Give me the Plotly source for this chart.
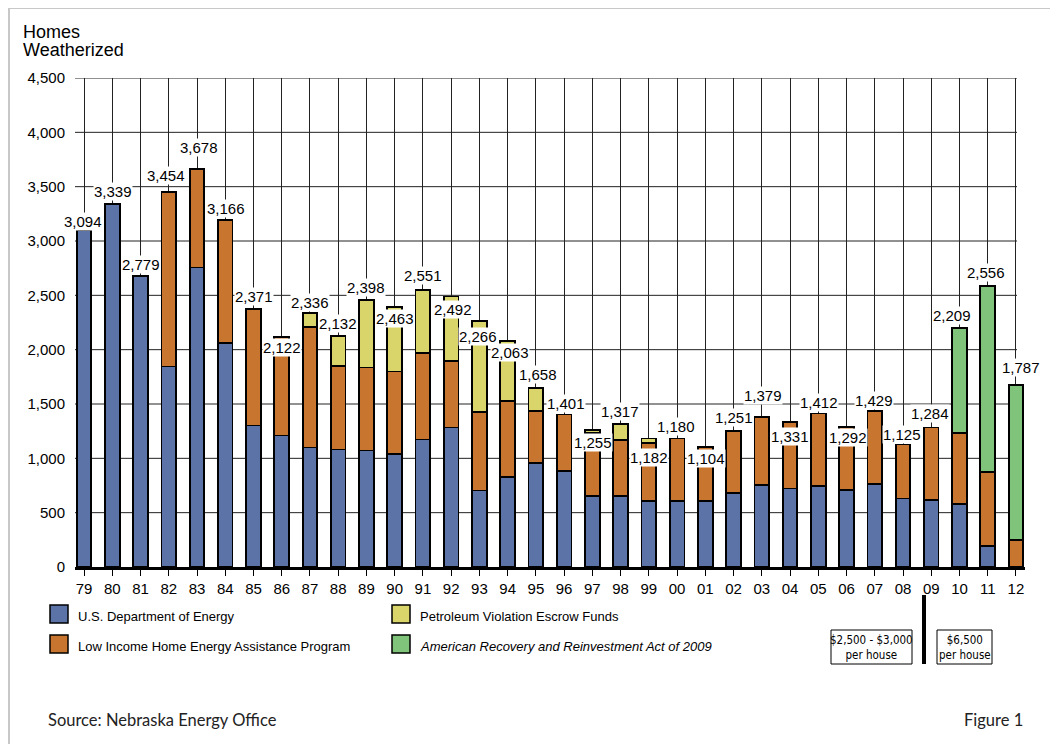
import plotly.graph_objects as go

# ---------------- data ----------------
years = ["79", "80", "81", "82", "83", "84", "85", "86", "87", "88", "89", "90",
         "91", "92", "93", "94", "95", "96", "97", "98", "99", "00", "01", "02",
         "03", "04", "05", "06", "07", "08", "09", "10", "11", "12"]

doe = [3100, 3337, 2680, 1846, 2757, 2058, 1302, 1210, 1100, 1081, 1072, 1038,
       1173, 1284, 704, 829, 958, 884, 651, 651, 608, 608, 608, 682,
       755, 722, 746, 706, 762, 630, 614, 577, 191, 0]
liheap = [0, 0, 0, 1607, 909, 1132, 1069, 908, 1108, 767, 764, 762,
          798, 613, 724, 700, 476, 520, 583, 516, 530, 575, 497, 571,
          627, 611, 667, 583, 672, 497, 670, 657, 684, 246]
pvef = [0, 0, 0, 0, 0, 0, 0, 0, 126, 280, 623, 595,
        577, 593, 835, 552, 215, 0, 25, 150, 45, 0, 0, 0,
        0, 0, 0, 0, 0, 0, 0, 0, 0, 0]
arra = [0, 0, 0, 0, 0, 0, 0, 0, 0, 0, 0, 0,
        0, 0, 0, 0, 0, 0, 0, 0, 0, 0, 0, 0,
        0, 0, 0, 0, 0, 0, 0, 964, 1713, 1430]

total_labels = ["3,094", "3,339", "2,779", "3,454", "3,678", "3,166", "2,371", "2,122",
                "2,336", "2,132", "2,398", "2,463", "2,551", "2,492", "2,266", "2,063",
                "1,658", "1,401", "1,255", "1,317", "1,182", "1,180", "1,104", "1,251",
                "1,379", "1,331", "1,412", "1,292", "1,429", "1,125", "1,284", "2,209",
                "2,556", "1,787"]

y_ticks = [0, 500, 1000, 1500, 2000, 2500, 3000, 3500, 4000, 4500]
y_ticktext = ["0", "500", "1,000", "1,500", "2,000", "2,500", "3,000", "3,500", "4,000", "4,500"]

series_names = ["U.S. Department of Energy", "Low Income Home Energy Assistance Program",
                "Petroleum Violation Escrow Funds", "American Recovery and Reinvestment Act of 2009"]

# ---------------- style ----------------
colors = ["#5B73A7", "#C8752F", "#D9D56B", "#80C47B"]
# label offsets (pixels) relative to bar top
lab_dy = [9, 13, 11, 16, 21, 12, 13, -11, 11, 12, 12, -12, 15, -13, -15, -12, 13, 11,
          -12, 12, -19, 12, -12, 13, 21, -14, 11, -11, 11, 10, 14, 13, 13, 17]
lab_dx = [-1, 1, 0, -3, 2, 1, 1, 0, 0, 0, 0, 0, 0, 2, -1, 2, 2, 2, 1, -1, 0, -1, 1, 0,
          1, 0, 1, 1, -1, -1, -1, -7, -2, 5]

PAGE_W, PAGE_H = 1058, 744
OFF = 8  # browser body margin
W, H = PAGE_W - OFF, PAGE_H - OFF
# plot area in page pixel coordinates
L, R, T, B = 75, 1025, 78, 567
GRID_R = 1017  # horizontal gridlines stop at last category line


def px(x):
    return (x - L) / (R - L)


def py(y):
    return (B - y) / (B - T)


xs = list(range(len(years)))
fig = go.Figure()
for vals, col, name in zip([doe, liheap, pvef, arra], colors, series_names):
    fig.add_trace(go.Bar(
        x=xs, y=[v if v else None for v in vals], name=name,
        marker=dict(color=col, line=dict(color="black", width=1.8)),
        width=0.52, showlegend=False, hoverinfo="y+name"))

totals = [a + b + c + d for a, b, c, d in zip(doe, liheap, pvef, arra)]

FONT = "Liberation Sans, Arial, sans-serif"
HUM = "Lato, Open Sans, sans-serif"
annotations = []
for i, (t, lab) in enumerate(zip(totals, total_labels)):
    annotations.append(dict(
        x=i, y=t, xref="x", yref="y", text=lab, showarrow=False,
        xanchor="center", yanchor="middle",
        xshift=lab_dx[i], yshift=lab_dy[i], bgcolor="white", borderpad=0,
        font=dict(family=FONT, size=15, color="black")))

# title (two lines)
for txt, yy in [("Homes", 32), ("Weatherized", 50)]:
    annotations.append(dict(x=px(21), y=py(yy), xref="paper", yref="paper", xanchor="left",
                            yanchor="middle", showarrow=False, text=txt,
                            font=dict(family=FONT, size=18, color="black")))

shapes = []
# horizontal gridlines (stop at the last category line)
for v in y_ticks[1:]:
    shapes.append(dict(type="line", xref="paper", yref="y", x0=0, x1=px(GRID_R),
                       y0=v, y1=v, line=dict(color="#222", width=1), layer="below"))

# outer frame
shapes.append(dict(type="rect", xref="paper", yref="paper", x0=px(9), x1=px(1052),
                   y0=py(760), y1=py(8), line=dict(color="#C8C8C8", width=2), layer="above"))

# legend
leg = [(50, 605, 0, False), (50, 635, 1, False), (392, 605, 2, False), (392, 635, 3, True)]
for x0, y0, k, ital in leg:
    shapes.append(dict(type="rect", xref="paper", yref="paper", x0=px(x0), x1=px(x0 + 18),
                       y0=py(y0 + 18), y1=py(y0), fillcolor=colors[k],
                       line=dict(color="black", width=1.5)))
    txt = series_names[k]
    if ital:
        txt = "<i>" + txt + "</i>"
    annotations.append(dict(x=px(x0 + 26), y=py(y0 + 11), xref="paper", yref="paper",
                            xanchor="left", yanchor="middle", showarrow=False, text=txt,
                            font=dict(family=FONT, size=13, color="black")))

# price boxes
narrow = "Liberation Sans Narrow, Arial Narrow, DejaVu Sans Condensed, sans-serif"
shapes.append(dict(type="rect", xref="paper", yref="paper", x0=px(831), x1=px(912),
                   y0=py(664), y1=py(630), line=dict(color="black", width=1)))
shapes.append(dict(type="rect", xref="paper", yref="paper", x0=px(937), x1=px(992),
                   y0=py(664), y1=py(630), line=dict(color="black", width=1)))
shapes.append(dict(type="line", xref="paper", yref="paper", x0=px(924), x1=px(924),
                   y0=py(664), y1=py(595), line=dict(color="black", width=4)))
annotations.append(dict(x=px(871.5), y=py(647), xref="paper", yref="paper", showarrow=False,
                        xanchor="center", yanchor="middle",
                        text="$2,500 - $3,000<br>per house", align="center",
                        font=dict(family=narrow, size=11.5, color="black")))
annotations.append(dict(x=px(964.5), y=py(647), xref="paper", yref="paper", showarrow=False,
                        xanchor="center", yanchor="middle",
                        text="$6,500<br>per house", align="center",
                        font=dict(family=narrow, size=11.5, color="black")))

# source / figure
annotations.append(dict(x=px(46), y=py(720), xref="paper", yref="paper", xanchor="left",
                        yanchor="middle",
                        showarrow=False, text="Source: Nebraska Energy Office",
                        font=dict(family=HUM, size=16.5, color="#222")))
annotations.append(dict(x=px(1025), y=py(720), xref="paper", yref="paper", xanchor="right",
                        yanchor="middle",
                        showarrow=False, text="Figure 1",
                        font=dict(family=HUM, size=16.5, color="#222")))

# x range: left edge at page x=75, category spacing ~28.24 px
x_lo = -0.32
x_hi = x_lo + (R - L) / 28.24

fig.update_layout(
    width=W, height=H, barmode="stack",
    margin=dict(l=L - OFF, r=PAGE_W - R, t=T - OFF, b=PAGE_H - B, pad=0),
    paper_bgcolor="white", plot_bgcolor="white",
    font=dict(family=FONT, size=15, color="black"),
    xaxis=dict(range=[x_lo, x_hi], tickmode="array", tickvals=xs, ticktext=years,
               showgrid=True, gridcolor="#222", gridwidth=1, zeroline=False,
               showline=True, linecolor="black", linewidth=2.5,
               ticks="outside", ticklen=6, tickcolor="black", tickwidth=1,
               tickfont=dict(size=15)),
    yaxis=dict(range=[0, 4500], tickmode="array", tickvals=y_ticks, ticktext=y_ticktext,
               showgrid=False, zeroline=False,
               showline=False, ticks="", ticklabelstandoff=9, tickfont=dict(size=15)),
    annotations=annotations, shapes=shapes,
)

fig.write_html("out.html")
